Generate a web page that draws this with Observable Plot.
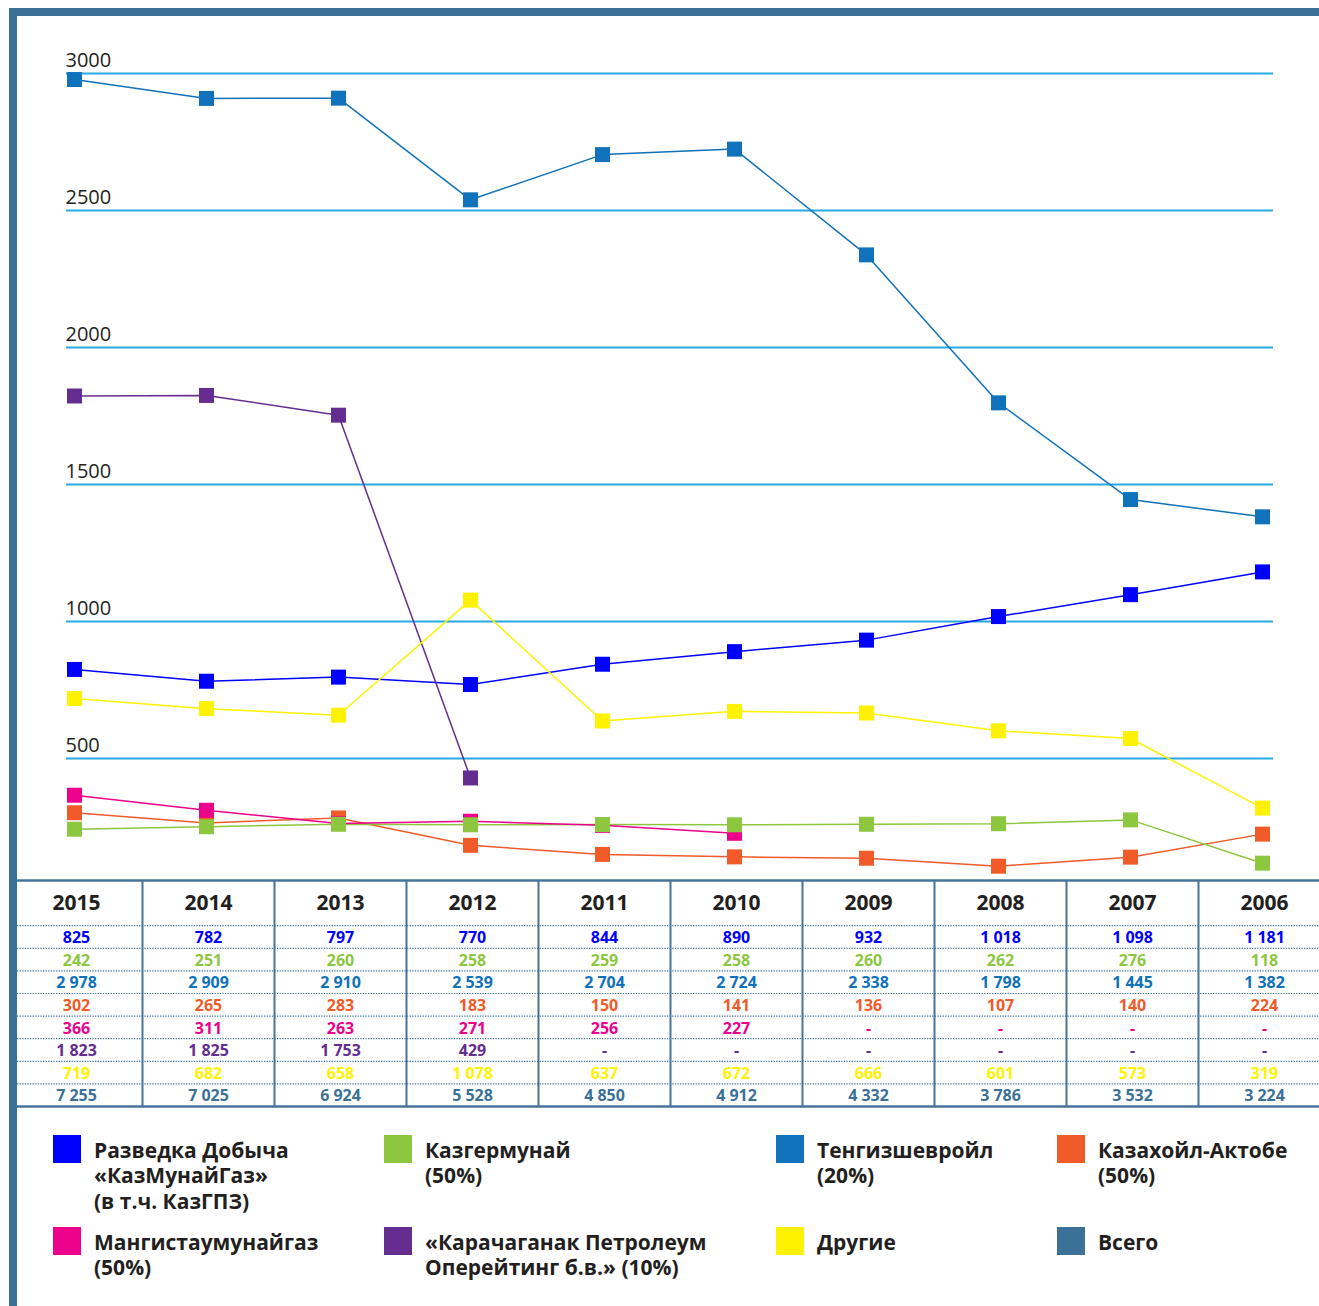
<!DOCTYPE html>
<html>
<head>
<meta charset="utf-8">
<script src="https://cdn.jsdelivr.net/npm/d3@7"></script>
<script src="https://cdn.jsdelivr.net/npm/@observablehq/plot@0.6"></script>
<style>
  html, body { margin: 0; padding: 0; background: #fff; }
  #wrap { position: relative; width: 1319px; height: 1306px; overflow: hidden; background: #fff; font-family: "Open Sans", "Noto Sans", sans-serif; }
  .abs { position: absolute; }
  .frame { position: absolute; background: #3c7197; }
  .leg-sw { position: absolute; width: 28px; height: 28px; }
  .leg-tx { position: absolute; font-size: 21px; font-weight: 700; line-height: 25.5px; color: #231f20; white-space: nowrap; }
</style>
</head>
<body>
<div id="wrap">
  <div id="chart" class="abs" style="left:0;top:0"></div>
  <div id="table" class="abs" style="left:0;top:879px"></div>
  <div id="legend"></div>
  <div class="frame" style="left:9px;top:8px;width:8px;height:1298px"></div>
  <div class="frame" style="left:9px;top:8px;width:1310px;height:8px"></div>
</div>
<script>
// ---- data ----
const years = [2015, 2014, 2013, 2012, 2011, 2010, 2009, 2008, 2007, 2006];
const seriesKeys = ["razvedka", "kazger", "tengiz", "kazakhoil", "mangist", "karach", "drugie", "total"];
const seriesNames = [
  "Разведка Добыча\n«КазМунайГаз»\n(в т.ч. КазГПЗ)",
  "Казгермунай\n(50%)",
  "Тенгизшевройл\n(20%)",
  "Казахойл-Актобе\n(50%)",
  "Мангистаумунайгаз\n(50%)",
  "«Карачаганак Петролеум\nОперейтинг б.в.» (10%)",
  "Другие",
  "Всего"
];
const seriesColors = ["#0000ff", "#8dc63f", "#1072ba", "#f15a29", "#ec008c", "#662d91", "#fff200", "#3c7197"];
const razvedka  = [825, 782, 797, 770, 844, 890, 932, 1018, 1098, 1181];
const kazger    = [242, 251, 260, 258, 259, 258, 260, 262, 276, 118];
const tengiz    = [2978, 2909, 2910, 2539, 2704, 2724, 2338, 1798, 1445, 1382];
const kazakhoil = [302, 265, 283, 183, 150, 141, 136, 107, 140, 224];
const mangist   = [366, 311, 263, 271, 256, 227, null, null, null, null];
const karach    = [1823, 1825, 1753, 429, null, null, null, null, null, null];
const drugie    = [719, 682, 658, 1078, 637, 672, 666, 601, 573, 319];
const total     = [7255, 7025, 6924, 5528, 4850, 4912, 4332, 3786, 3532, 3224];
const yTicks = [500, 1000, 1500, 2000, 2500, 3000];

const valuesByKey = {razvedka, kazger, tengiz, kazakhoil, mangist, karach, drugie, total};
const colorByKey = Object.fromEntries(seriesKeys.map((k, i) => [k, seriesColors[i]]));

// long-format rows
const rows = [];
seriesKeys.forEach((k, si) => {
  valuesByKey[k].forEach((v, yi) => rows.push({key: k, si, year: years[yi], yi, value: v}));
});

// ---- chart ----
const lineDrawOrder = ["tengiz", "razvedka", "karach", "drugie", "kazakhoil", "kazger", "mangist"];
const dotDrawOrder = ["tengiz", "razvedka", "karach", "drugie", "kazakhoil", "mangist", "kazger"];

const chartMarks = [
  Plot.ruleY(yTicks, {y: d => d, stroke: "#27a9e1", strokeWidth: 2.2}),
  Plot.text(yTicks, {
    y: d => d, text: d => String(d), frameAnchor: "left", textAnchor: "start",
    dx: -1, dy: -12.5, fontSize: 20, fill: "#231f20"
  })
];
for (const k of lineDrawOrder) {
  chartMarks.push(Plot.line(rows.filter(r => r.key === k && r.value != null), {
    x: "year", y: "value", stroke: colorByKey[k], strokeWidth: 1.5
  }));
}
for (const k of dotDrawOrder) {
  chartMarks.push(Plot.dot(rows.filter(r => r.key === k && r.value != null), {
    x: "year", y: "value", symbol: "square", r: 8.46, fill: colorByKey[k], stroke: "none"
  }));
}

const chart = Plot.plot({
  width: 1319,
  height: 880,
  marginLeft: 66,
  marginRight: 46,
  marginTop: 73,
  marginBottom: 0,
  style: {fontFamily: "'Open Sans', 'Noto Sans', sans-serif", background: "transparent", overflow: "visible"},
  x: {type: "point", domain: years, range: [73, 1263], padding: 0, axis: null},
  y: {type: "linear", domain: [0, 3000], range: [895, 73], axis: null},
  marks: chartMarks
});
document.getElementById("chart").appendChild(chart);

// ---- table ----
const fmtLocale = d3.formatLocale({decimal: ",", thousands: "\u00a0", grouping: [3], currency: ["", ""]});
const fmt = fmtLocale.format(",d");
const tableCells = rows.map(r => ({...r, label: r.value == null ? "-" : fmt(r.value)}));
const lineColor = "#44749b";

const table = Plot.plot({
  width: 1319,
  height: 229,
  marginLeft: 17,
  marginRight: 0,
  marginTop: 0,
  marginBottom: 0,
  style: {fontFamily: "'Open Sans', 'Noto Sans', sans-serif", background: "transparent", overflow: "visible"},
  x: {type: "linear", domain: [0, 10], range: [10, 1330], axis: null},
  y: {type: "linear", domain: [-2, 8], range: [1, 227], axis: null},
  marks: [
    Plot.ruleY(d3.range(0, 8), {y: d => d, stroke: lineColor, strokeWidth: 1.2, strokeDasharray: "1.3,1.3"}),
    Plot.ruleX(d3.range(1, 10), {x: d => d, y1: -2, y2: 8, stroke: lineColor, strokeWidth: 2}),
    Plot.ruleY([-2, 8], {y: d => d, stroke: lineColor, strokeWidth: 2.5}),
    Plot.text(years, {
      x: (d, i) => i + 0.5, y: -1, text: d => String(d),
      fontSize: 21, fontWeight: 700, fill: "#231f20", textAnchor: "middle"
    }),
    Plot.text(tableCells, {
      x: d => d.yi + 0.5, y: d => d.si + 0.5, text: "label",
      fontSize: 16, fontWeight: 700, fill: d => colorByKey[d.key], textAnchor: "middle", dy: 1
    })
  ]
});
document.getElementById("table").appendChild(table);

// ---- legend ----
const legCols = [53, 384, 776, 1057];
const legRows = [1135, 1227];
const legend = document.getElementById("legend");
seriesKeys.forEach((k, i) => {
  const cx = legCols[i % 4], ry = legRows[Math.floor(i / 4)];
  const sw = document.createElement("div");
  sw.className = "leg-sw";
  sw.style.left = cx + "px";
  sw.style.top = ry + "px";
  sw.style.background = colorByKey[k];
  legend.appendChild(sw);
  const tx = document.createElement("div");
  tx.className = "leg-tx";
  tx.style.left = (cx + 41) + "px";
  tx.style.top = (ry + 2.5) + "px";
  seriesNames[i].split("\n").forEach((line, j) => {
    if (j) tx.appendChild(document.createElement("br"));
    tx.appendChild(document.createTextNode(line));
  });
  legend.appendChild(tx);
});
</script>
</body>
</html>
